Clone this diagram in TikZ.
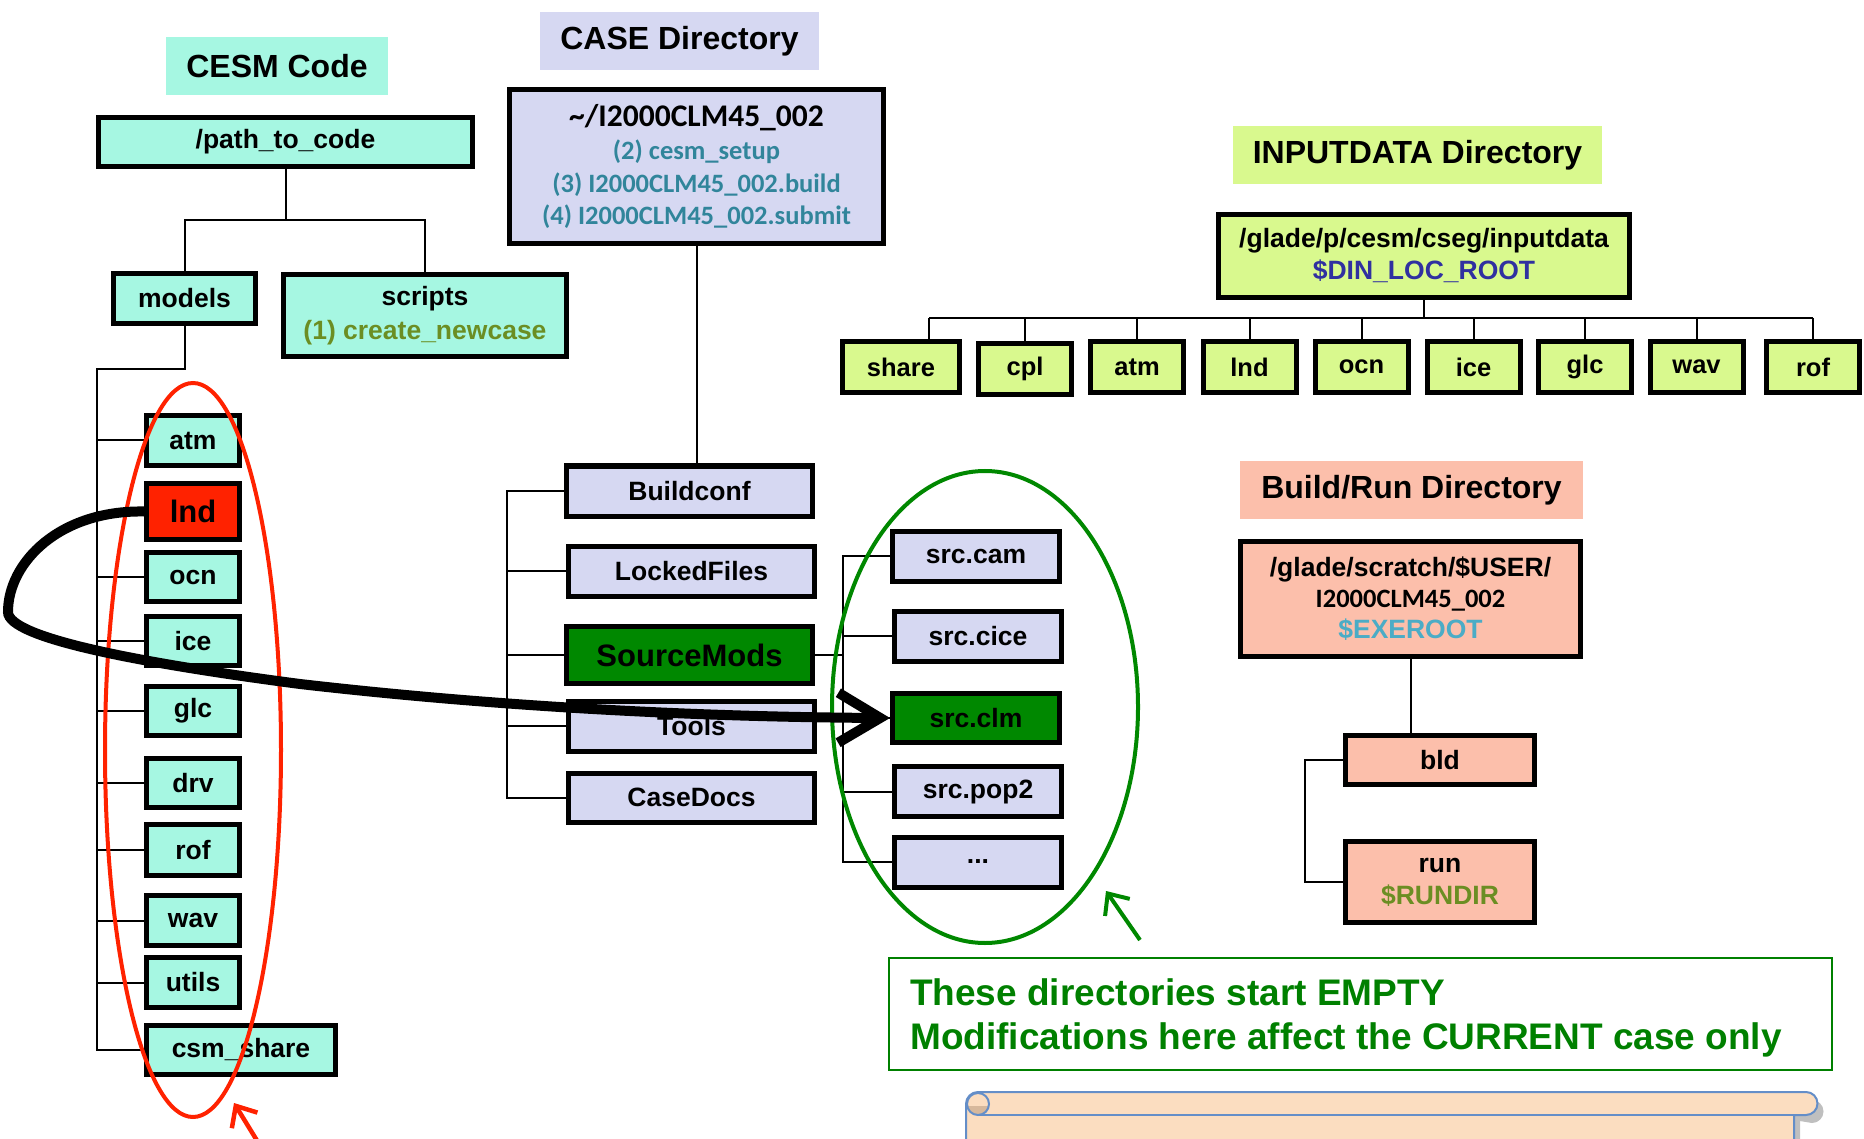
\documentclass[tikz,border=0pt]{standalone}
\usepackage{fontspec}
\setmainfont{Liberation Sans}
\newfontfamily\calib{Carlito}
\usetikzlibrary{arrows.meta}
\definecolor{cesmfill}{RGB}{166,247,226}
\definecolor{casefill}{RGB}{214,216,242}
\definecolor{inpfill}{RGB}{217,249,142}
\definecolor{brfill}{RGB}{252,191,171}
\definecolor{lndred}{RGB}{255,34,0}
\definecolor{boxgreen}{RGB}{0,136,0}
\definecolor{notegreen}{RGB}{0,128,0}
\definecolor{tealtxt}{RGB}{49,133,155}
\definecolor{olivetxt}{RGB}{107,142,35}
\definecolor{exetxt}{RGB}{75,172,198}
\definecolor{dintxt}{RGB}{48,48,160}
\definecolor{peach}{RGB}{251,221,192}
\definecolor{scrollblue}{RGB}{100,142,200}
\definecolor{curlfill}{RGB}{214,184,156}
\begin{document}
\begin{tikzpicture}[x=1pt,y=-1pt,
  box/.style={draw=black, line width=5pt, inner sep=0pt, align=center,
    font=\bfseries\fontsize{26.5}{32}\selectfont},
  ttl/.style={inner sep=0pt, align=center, font=\bfseries\fontsize{32}{38}\selectfont},
  conn/.style={line width=2pt},
  cesm/.style={box, fill=cesmfill},
  casebx/.style={box, fill=casefill},
  inp/.style={box, fill=inpfill},
  brb/.style={box, fill=brfill},
  small/.style={minimum width=93, minimum height=50},
  srcb/.style={casebx, minimum width=167, minimum height=50},
  casech/.style={casebx, minimum width=246, minimum height=50},
  inpch/.style={inp, minimum width=93, minimum height=51, font=\bfseries\fontsize{25.5}{30}\selectfont},
  bigarrow/.style={line width=10pt, -{Straight Barb[length=42pt,width=50pt]}},
  thinarrow/.style={line width=4.5pt, -{Straight Barb[length=17pt,width=30pt]}},
]
\useasboundingbox (0,0) rectangle (1864,1139);

% ---------------- CESM Code ----------------
\node[ttl, fill=cesmfill, minimum width=222, minimum height=58] (cesmtitle) at (277,66) {CESM Code};
\node[cesm, minimum width=374, minimum height=49] (path) at (285.5,142) {/path\_to\_code};
\node[cesm, minimum width=142, minimum height=50] (models) at (184.5,298.5) {models};
\node[cesm, minimum width=283, minimum height=82] (scripts) at (425,316) {scripts\\[2pt]{\color{olivetxt}(1) create\_newcase}};
\node[cesm, small] (atm) at (193,440.5) {atm};
\node[box, fill=lndred, small, minimum height=56, font=\bfseries\fontsize{31}{36}\selectfont] (lnd) at (193,511.5) {lnd};
\node[cesm, small, minimum height=49] (ocn) at (193,577) {ocn};
\node[cesm, small, minimum height=49] (ice) at (193,641) {ice};
\node[cesm, small, minimum height=49] (glc) at (193,711) {glc};
\node[cesm, small, minimum height=49] (drv) at (193,783) {drv};
\node[cesm, small, minimum height=51] (rof) at (193,850) {rof};
\node[cesm, small] (wav) at (193,920.5) {wav};
\node[cesm, small] (utils) at (193,982.5) {utils};
\node[cesm, minimum width=189, minimum height=49] (csm) at (241,1050) {csm\_share};

\coordinate (pj) at (285.5,220);
\coordinate (ltrunk) at (97,369);
\draw[conn] (path.south) -- (pj);
\draw[conn] (models.north) |- (pj) -| (scripts.north);
\draw[conn] (models.south) |- (ltrunk) -- (ltrunk |- csm.west) -- (csm.west);
\foreach \n in {atm,lnd,ocn,ice,glc,drv,rof,wav,utils}
  \draw[conn] (ltrunk |- \n.west) -- (\n.west);

% ---------------- CASE Directory ----------------
\node[ttl, fill=casefill, minimum width=279, minimum height=58] (casetitle) at (679.5,41) {CASE Directory};
\node[casebx, minimum width=374, minimum height=154, font=\calib\bfseries\fontsize{26.5}{32.5}\selectfont] (casebox) at (696.5,166.5)
  {{\fontsize{31.5}{34}\selectfont\textasciitilde/I2000CLM45\_002}\\[1pt]
   {\color{tealtxt}(2) cesm\_setup}\\
   {\color{tealtxt}(3) I2000CLM45\_002.build}\\
   {\color{tealtxt}(4) I2000CLM45\_002.submit}};
\node[casech] (buildconf) at (689.5,491) {Buildconf};
\node[casech] (locked) at (691.5,571) {LockedFiles};
\node[box, fill=boxgreen, minimum width=246, minimum height=57, font=\bfseries\fontsize{31}{36}\selectfont] (srcmods) at (689.5,655) {SourceMods};
\node[casech] (tools) at (691.5,726) {Tools};
\node[casech, minimum height=49] (casedocs) at (691.5,797.5) {CaseDocs};

\coordinate (ctop) at (507,491);
\draw[conn] (casebox.south) -- (casebox.south |- buildconf.north);
\draw[conn] (buildconf.west) -- (ctop) -- (ctop |- casedocs.west) -- (casedocs.west);
\foreach \n in {locked,srcmods,tools}
  \draw[conn] (ctop |- \n.west) -- (\n.west);

\node[srcb] (srccam) at (976,556) {src.cam};
\node[srcb] (srccice) at (978,636) {src.cice};
\node[box, fill=boxgreen, minimum width=167, minimum height=49] (srcclm) at (976,718) {src.clm};
\node[srcb] (srcpop) at (978,791.5) {src.pop2};
\node[srcb] (srcdots) at (978,862) {...};

\coordinate (strunk) at (843,556);
\draw[conn] (srccam.west) -- (strunk) -- (strunk |- srcdots.west) -- (srcdots.west);
\foreach \n in {srccice,srcclm,srcpop}
  \draw[conn] (strunk |- \n.west) -- (\n.west);
\draw[conn] (srcmods.east) -- (strunk |- srcmods.east);

% ---------------- INPUTDATA ----------------
\node[ttl, fill=inpfill, minimum width=369, minimum height=58] (inptitle) at (1417.5,155) {INPUTDATA Directory};
\node[inp, minimum width=411, minimum height=83] (inpbox) at (1424,256)
  {/glade/p/cesm/cseg/inputdata\\[0pt]{\color{dintxt}\$DIN\_LOC\_ROOT}};
\node[inpch, minimum width=117] (ishare) at (901,367) {share};
\node[inpch] (icpl) at (1025,369) {cpl};
\node[inpch] (iatm) at (1137,367) {atm};
\node[inpch] (ilnd) at (1249.5,367) {lnd};
\node[inpch] (iocn) at (1361.5,367) {ocn};
\node[inpch] (iice) at (1473.5,367) {ice};
\node[inpch] (iglc) at (1585,367) {glc};
\node[inpch] (iwav) at (1696.5,367) {wav};
\node[inpch] (irof) at (1813,367) {rof};

\coordinate (busL) at (929,318);
\coordinate (busR) at (1813,318);
\draw[conn] (inpbox.south) -- (inpbox.south |- busL);
\draw[conn] (busL) -- (busR);
\draw[conn] (busL) -- (busL |- ishare.north);
\foreach \n in {icpl,iatm,ilnd,iocn,iice,iglc,iwav,irof}
  \draw[conn] (busL -| \n.north) -- (\n.north);

% ---------------- Build/Run ----------------
\node[ttl, fill=brfill, minimum width=343, minimum height=58] (brtitle) at (1411.5,490) {Build/Run Directory};
\node[brb, minimum width=340, minimum height=115] (brbox) at (1410.5,599)
  {/glade/scratch/\$USER/\\[-1pt]
   {\calib\fontsize{26.5}{30}\selectfont I2000CLM45\_002}\\[-1pt]
   {\color{exetxt}\$EXEROOT}};
\node[brb, minimum width=189, minimum height=49] (bld) at (1440,760) {bld};
\node[brb, minimum width=189, minimum height=81] (run) at (1440,882) {run\\[0pt]{\color{olivetxt}\$RUNDIR}};

\coordinate (bj) at (1305,760);
\draw[conn] (brbox.south) -- (brbox.south |- bld.north);
\draw[conn] (bld.west) -- (bj) -- (bj |- run.west) -- (run.west);

% ---------------- highlight ellipses and arrows ----------------
\draw[lndred, line width=4pt] (193,750) ellipse [x radius=88, y radius=367];
\coordinate (redtail) at (264,1152);
\coordinate (redtip) at (234,1103);
\draw[lndred, thinarrow] (redtail) -- (redtip);

\draw[boxgreen, line width=4pt] (985,707) ellipse [x radius=153, y radius=236];
\coordinate (grtail) at (1140,940);
\coordinate (grtip) at (1106,891);
\draw[boxgreen, thinarrow, line width=4pt] (grtail) -- (grtip);

\draw[bigarrow] (lnd.west) .. controls (60,510) and (8,562) .. (8,612)
  .. controls (8,638) and (140,663) .. (300,684)
  .. controls (500,707) and (700,717) .. (srcclm.west);

% ---------------- note ----------------
\node[draw=notegreen, line width=2pt, minimum width=943, minimum height=112, inner sep=0pt] (note) at (1360.5,1014) {};
\node[anchor=west, inner sep=0pt, align=left, text=notegreen, font=\bfseries\fontsize{37}{44}\selectfont] (notetxt) at (910,1018)
  {These directories start EMPTY\\Modifications here affect the CURRENT case only};

% ---------------- scroll ----------------
\fill[black!25] (972,1160) -- (972,1100) -- (1812,1100) arc[start angle=270, end angle=450, radius=11.5] -- (1800,1121) -- (1800,1160) -- cycle;
\filldraw[fill=peach, draw=scrollblue, line width=2pt]
  (966,1160) -- (966,1104) arc[start angle=180, end angle=270, radius=12]
  -- (1806,1092) arc[start angle=270, end angle=450, radius=11.5]
  -- (1794,1115) -- (1794,1160);
\draw[scrollblue, line width=2pt] (978,1115) -- (1794,1115);
\begin{scope}
  \clip (978,1104) circle[radius=11];
  \fill[curlfill] (960,1106) rectangle (992,1120);
\end{scope}
\draw[scrollblue, line width=2pt] (978,1104) circle[radius=11];
\end{tikzpicture}
\end{document}
